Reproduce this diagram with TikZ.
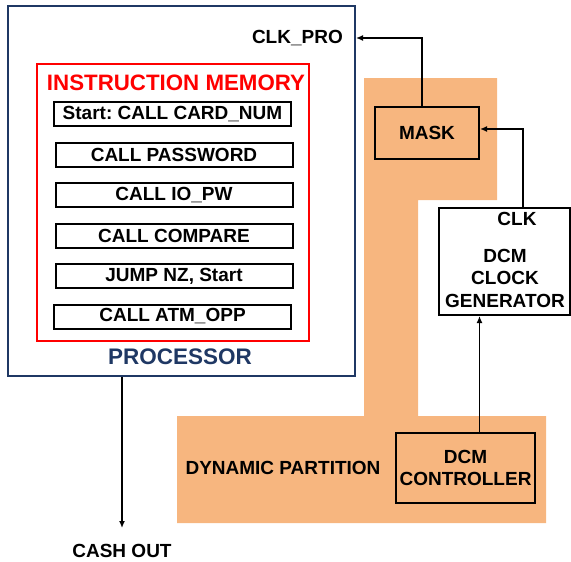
\documentclass[tikz,border=0pt]{standalone}
\usepackage{fontspec}
\setmainfont{Liberation Sans}
\usetikzlibrary{arrows.meta}
\frenchspacing
\definecolor{navy}{RGB}{31,56,100}
\definecolor{part}{RGB}{247,182,127}
\definecolor{imred}{RGB}{255,0,0}
\tikzset{
  box/.style={draw=black,line width=2pt,inner sep=0pt,font=\fontsize{19}{22.5}\selectfont\bfseries,align=center},
  ibox/.style={box,minimum width=237pt,minimum height=24pt},
  lbl/.style={inner sep=0pt,font=\fontsize{19}{22.5}\selectfont\bfseries,align=center},
  arr/.style={line width=1.8pt,-{Latex[length=7pt,width=6pt]}}
}
\begin{document}
\begin{tikzpicture}[x=1pt,y=-1pt]
\useasboundingbox (0,0) rectangle (571,562);
% dynamic partition region
\fill[part] (364,78) -- (497,78) -- (497,200) -- (418,200) -- (418,416) -- (546,416) -- (546,523) -- (177,523) -- (177,416) -- (364,416) -- cycle;
% processor
\node[draw=navy,line width=2pt,minimum width=347pt,minimum height=370pt,inner sep=0pt] (proc) at (181.5,191) {};
\node[lbl,text=navy,font=\fontsize{22.5}{26}\selectfont\bfseries] (proclbl) at (180,357) {PROCESSOR};
% instruction memory
\node[draw=imred,line width=2pt,minimum width=272pt,minimum height=277pt,inner sep=0pt] (imem) at (173,202.5) {};
\node[lbl,text=imred,font=\fontsize{22.3}{26}\selectfont\bfseries] (imlbl) at (176,83) {INSTRUCTION MEMORY};
\node[ibox] (i1) at (172.5,114) {Start:\ CALL CARD\_NUM};
\node[ibox] (i2) at (174,154.5) {CALL PASSWORD};
\node[ibox] (i3) at (174,195) {CALL IO\_PW};
\node[ibox] (i4) at (174,235.5) {CALL COMPARE};
\node[ibox] (i5) at (174,276) {JUMP NZ, Start};
\node[ibox] (i6) at (172.5,316.5) {CALL ATM\_OPP};
% clk_pro label
\node[lbl,anchor=east] (clkpro) at (343,38) {CLK\_PRO};
% mask
\node[box,minimum width=104pt,minimum height=52pt] (mask) at (427,133) {MASK};
% clock generator
\node[box,minimum width=131pt,minimum height=107pt] (clkgen) at (504.5,261.5) {};
\node[lbl] (clk) at (517,219) {CLK};
\node[lbl] (clkgentxt) at (505,278) {DCM\\CLOCK\\GENERATOR};
% controller
\node[box,minimum width=139pt,minimum height=70pt] (ctrl) at (465.5,468) {DCM\\CONTROLLER};
\node[lbl] (dp) at (283,468) {DYNAMIC PARTITION};
% cash out
\node[lbl] (cash) at (122,551) {CASH OUT};
\coordinate (cashend) at (122,528);
% connectors
\draw[arr] ([xshift=-5pt]mask.north) |- (proc.east |- clkpro);
\draw[arr] ([xshift=18.5pt]clkgen.north) |- ([yshift=4pt]mask.east);
\draw[arr] ([xshift=14pt]ctrl.north) -- ([xshift=14pt]ctrl.north |- clkgen.south);
\draw[arr] (proc.south -| cashend) -- (cashend);
\end{tikzpicture}
\end{document}
